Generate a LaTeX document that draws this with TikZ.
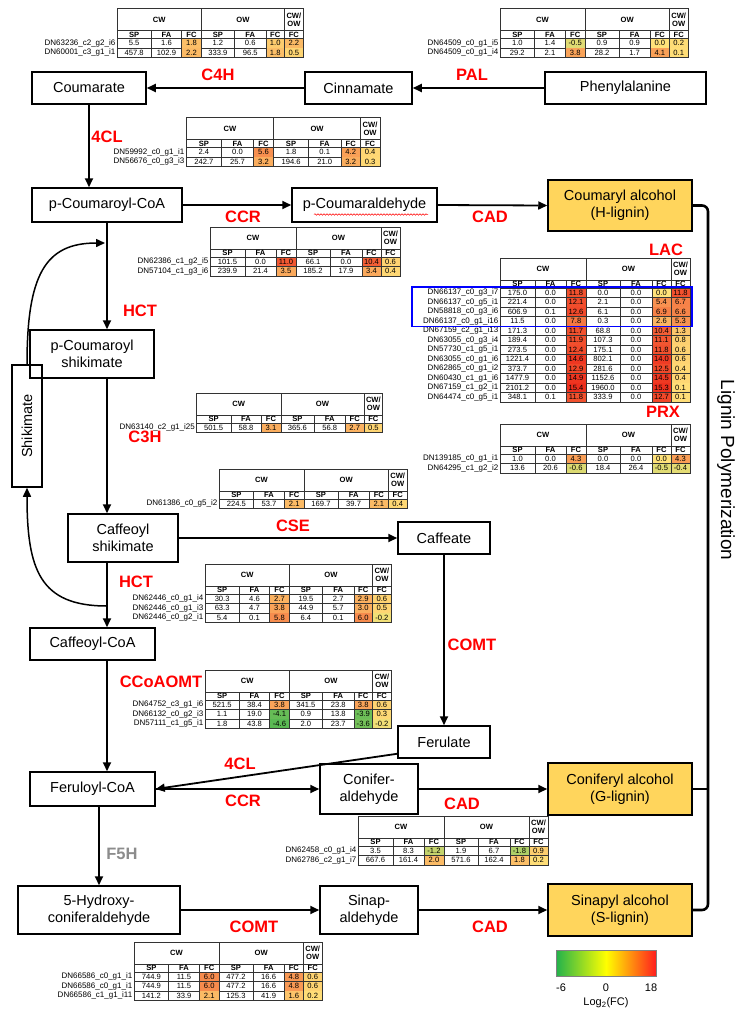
\documentclass[tikz,border=0pt]{standalone}
\usepackage{fontspec}
\setmainfont{Liberation Sans}
\usetikzlibrary{arrows.meta,decorations.pathmorphing,calc}
\definecolor{fcyel}{HTML}{FFE27A}
\definecolor{fcred}{HTML}{EE2A1A}
\definecolor{fcgrn}{HTML}{33B04A}
\definecolor{enzred}{HTML}{FF0000}
\definecolor{lgold}{HTML}{FFD55C}
\definecolor{leggrn}{HTML}{22B24C}
\definecolor{legred}{HTML}{FF1E1E}
\newcommand\setfc[1]{%
  \pgfmathsetmacro\fcv{#1}%
  \ifdim\fcv pt<0pt
    \pgfmathtruncatemacro\fcp{100*min(1,pow(max(abs(\fcv),0.01)/6,0.75))}%
    \colorlet{cellc}{fcgrn!\fcp!fcyel}%
  \else
    \pgfmathtruncatemacro\fcp{100*min(1,pow(max(abs(\fcv),0.01)/16,0.75))}%
    \colorlet{cellc}{fcred!\fcp!fcyel}%
  \fi}
\def\rh{9.5}
\newcommand\gtab[5]{% x, y, xscale, nrows, rows
\begin{scope}[shift={(#1,#2)}]
\begin{scope}[xscale=#3]
 \foreach \nm/\va/\vb/\vc/\vd/\ve/\vf/\vg [count=\i] in {#5} {
   \pgfmathsetmacro\ya{30+\rh*(\i-1)}
   \pgfmathsetmacro\yb{\ya+\rh}
   \pgfmathsetmacro\ym{\ya+\rh/2}
   \setfc{\vc}\fill[cellc] (66,\ya) rectangle (86,\yb);
   \setfc{\vf}\fill[cellc] (152,\ya) rectangle (171,\yb);
   \setfc{\vg}\fill[cellc] (171,\ya) rectangle (190,\yb);
   \node[tabname, anchor=east] at (-1.5,\ym) {\nm};
   \node[tabtxt] at (17.5,\ym) {\va};
   \node[tabtxt] at (50.5,\ym) {\vb};
   \node[tabtxt] at (76,\ym) {\vc};
   \node[tabtxt] at (103,\ym) {\vd};
   \node[tabtxt] at (136,\ym) {\ve};
   \node[tabtxt] at (161.5,\ym) {\vf};
   \node[tabtxt] at (180.5,\ym) {\vg};
   \draw[tabline] (0,\yb) -- (190,\yb);
 }
 \pgfmathsetmacro\ye{30+\rh*#4}
 \draw[tabline] (0,0) rectangle (190,\ye);
 \draw[tabline] (0,22) -- (190,22) (0,30) -- (190,30);
 \foreach \xx in {86,171} \draw[tabline] (\xx,0) -- (\xx,\ye);
 \foreach \xx in {35,66,120,152} \draw[tabline] (\xx,22) -- (\xx,\ye);
 \node[tabhd] at (43,11) {CW};
 \node[tabhd] at (128.5,11) {OW};
 \node[tabhd] at (180.5,11) {CW/\\OW};
 \foreach \xx/\hh in {17.5/SP,50.5/FA,76/FC,103/SP,136/FA,161.5/FC,180.5/FC}
   \node[tabhd] at (\xx,26) {\hh};
\end{scope}
\end{scope}}
\begin{document}
\begin{tikzpicture}[x=1pt,y=-1pt,
 box/.style={draw, line width=1.5pt, font=\fontsize{14.5}{17}\selectfont, align=center, inner sep=1pt},
 gbox/.style={box, fill=lgold},
 arr/.style={line width=1.8pt, -{Triangle[length=9pt,width=8pt]}},
 enz/.style={font=\fontsize{16.5}{18}\selectfont\bfseries, text=enzred, inner sep=0pt},
 tabtxt/.style={font=\fontsize{7.6}{8}\selectfont, inner sep=0pt},
 tabname/.style={font=\fontsize{8}{8}\selectfont, inner sep=0pt},
 tabhd/.style={font=\fontsize{7.6}{8.2}\selectfont\bfseries, inner sep=0pt, align=center},
 tabline/.style={line width=0.5pt, draw=black!80}]
\useasboundingbox (0,0) rectangle (739,1013);
\fill[white] (0,0) rectangle (739,1013);

% ---------- boxes ----------
\node[box, minimum width=114pt, minimum height=32pt] (coum) at (89,88) {Coumarate};
\node[box, minimum width=107pt, minimum height=32pt] (cinn) at (358.5,88) {Cinnamate};
\node[box, minimum width=161pt, minimum height=32pt] (phe) at (625.5,88) {Phenylalanine};
\node[box, minimum width=150pt, minimum height=34pt] (pcoa) at (107,205) {p-Coumaroyl-CoA};
\node[box, minimum width=145pt, minimum height=34pt] (pcald) at (364.5,205) {p-Coumaraldehyde};
\node[gbox, minimum width=144pt, minimum height=51pt] (halc) at (620,205.5) {Coumaryl alcohol\\(H-lignin)};
\node[box, minimum width=124pt, minimum height=48pt] (pcs) at (92,354) {p-Coumaroyl\\shikimate};
\node[box, minimum width=30pt, minimum height=122pt] (shik) at (27,426) {};
\node[rotate=90, font=\fontsize{14.5}{17}\selectfont] (shiktxt) at (shik.center) {Shikimate};
\node[box, minimum width=110pt, minimum height=48pt] (cafs) at (123,538) {Caffeoyl\\shikimate};
\node[box, minimum width=92pt, minimum height=32pt] (caff) at (444,538) {Caffeate};
\node[box, minimum width=125pt, minimum height=32pt] (cacoa) at (92.5,644) {Caffeoyl-CoA};
\node[box, minimum width=92pt, minimum height=32pt] (feru) at (444,742) {Ferulate};
\node[box, minimum width=125pt, minimum height=34pt] (fecoa) at (92.5,789) {Feruloyl-CoA};
\node[box, minimum width=98pt, minimum height=50pt] (conald) at (369,789) {Conifer-\\aldehyde};
\node[gbox, minimum width=144pt, minimum height=52pt] (galc) at (620,789) {Coniferyl alcohol\\(G-lignin)};
\node[box, minimum width=162pt, minimum height=48pt] (hcald) at (99,910) {5-Hydroxy-\\coniferaldehyde};
\node[box, minimum width=98pt, minimum height=48pt] (sinald) at (369,910) {Sinap-\\aldehyde};
\node[gbox, minimum width=144pt, minimum height=52pt] (salc) at (620,910) {Sinapyl alcohol\\(S-lignin)};

% spell-check squiggle
\draw[red, line width=0.5pt, decorate, decoration={snake, amplitude=0.8pt, segment length=3pt}]
  ($(pcald.center)+(-50.5,9.5)$) -- ($(pcald.center)+(63.5,9.5)$);

% ---------- arrows ----------
\coordinate (vx) at (107,0);
\draw[arr] (phe.west) -- (cinn.east);
\draw[arr] (cinn.west) -- (coum.east);
\draw[arr] (coum.south) -- (coum.south |- pcoa.north);
\draw[arr] (pcoa.east) -- (pcald.west);
\draw[arr] (pcald.east) -- (halc.west);
\draw[arr] (pcoa.south) -- (pcoa.south |- pcs.north);
\draw[arr] (pcs.south -| vx) -- (vx |- cafs.north);
\draw[arr] (cafs.east) -- (caff.west);
\draw[arr] (cafs.south -| vx) -- (vx |- cacoa.north);
\draw[arr] (caff.south) -- (feru.north);
\draw[arr] (cacoa.south -| vx) -- (vx |- fecoa.north);
\draw[arr] ($(feru.south west)+(0,-5)$) -- (fecoa.east);
\draw[arr] (fecoa.east) -- (conald.west);
\draw[arr] (conald.east) -- (galc.west);
\draw[arr] (fecoa.south -| hcald.north) -- (hcald.north);
\draw[arr] (hcald.east) -- (sinald.west);
\draw[arr] (sinald.east) -- (salc.west);
% shikimate loop
\coordinate (j1) at (105,243);
\coordinate (j2) at (107,606);
\draw[arr, line width=1.5pt] (shik.north) .. controls (27,275) and (45,243) .. (j1);
\draw[arr, line width=1.5pt] (j2) .. controls (40,606) and (27,570) .. (shik.south);
% lignin polymerization bracket
\coordinate (lpx) at (708,0);
\draw[line width=2.6pt, rounded corners=6pt] (halc.east) -- (halc.east -| lpx) -- (salc.east -| lpx) -- (salc.east);
\draw[line width=2.6pt] (galc.east) -- (galc.east -| lpx);
\node[rotate=-90, font=\fontsize{19}{21}\selectfont] (lp) at (726,470) {Lignin Polymerization};

% ---------- enzyme labels ----------
\node[enz] (ePAL) at (472,75) {PAL};
\node[enz] (eC4H) at (218,75) {C4H};
\node[enz] (e4CL) at (107,137) {4CL};
\node[enz] (eCCR) at (243,217) {CCR};
\node[enz] (eCAD) at (490,217) {CAD};
\node[enz] (eLAC) at (666,250) {LAC};
\node[enz] (eHCT) at (140,311) {HCT};
\node[enz] (eC3H) at (145,437) {C3H};
\node[enz] (ePRX) at (663,412) {PRX};
\node[enz] (eCSE) at (293,526) {CSE};
\node[enz] (eCOMT) at (472,645) {COMT};
\node[enz] (eHCT2) at (136,582) {HCT};
\node[enz] (eCCo) at (161,682) {CCoAOMT};
\node[enz] (e4CL2) at (240,764) {4CL};
\node[enz] (eCCR2) at (243,801) {CCR};
\node[enz] (eCAD2) at (462,804) {CAD};
\node[enz, text=black!45] (eF5H) at (122,854) {F5H};
\node[enz] (eCOMT2) at (254,927) {COMT};
\node[enz] (eCAD3) at (490,927) {CAD};

% ---------- tables ----------
\gtab{117}{8.5}{0.98}{2}{DN63236\_c2\_g2\_i6/5.5/1.6/1.8/1.2/0.6/1.0/2.2, DN60001\_c3\_g1\_i1/457.8/102.9/2.2/333.9/96.5/1.8/0.5}
\gtab{500}{8.5}{0.99}{2}{DN64509\_c0\_g1\_i5/1.0/1.4/-0.5/0.9/0.9/0.0/0.2, DN64509\_c0\_g1\_i4/29.2/2.1/3.8/28.2/1.7/4.1/0.1}
\gtab{186}{117.5}{1.02}{2}{DN59992\_c0\_g1\_i1/2.4/0.0/5.6/1.8/0.1/4.2/0.4, DN56676\_c0\_g3\_i3/242.7/25.7/3.2/194.6/21.0/3.2/0.3}
\gtab{210}{227}{1.0}{2}{DN62386\_c1\_g2\_i5/101.5/0.0/11.0/66.1/0.0/10.4/0.6, DN57104\_c1\_g3\_i6/239.9/21.4/3.5/185.2/17.9/3.4/0.4}
\gtab{500}{258}{1.0}{12}{DN66137\_c0\_g3\_i7/175.0/0.0/11.8/0.0/0.0/0.0/11.8,
 DN66137\_c0\_g5\_i1/221.4/0.0/12.1/2.1/0.0/5.4/6.7,
 DN58818\_c0\_g3\_i6/606.9/0.1/12.6/6.1/0.0/6.9/6.6,
 DN66137\_c0\_g1\_i16/11.5/0.0/7.8/0.3/0.0/2.6/5.3,
 DN67159\_c2\_g1\_i13/171.3/0.0/11.7/68.8/0.0/10.4/1.3,
 DN63055\_c0\_g3\_i4/189.4/0.0/11.9/107.3/0.0/11.1/0.8,
 DN57730\_c1\_g5\_i1/273.5/0.0/12.4/175.1/0.0/11.8/0.6,
 DN63055\_c0\_g1\_i6/1221.4/0.0/14.6/802.1/0.0/14.0/0.6,
 DN62865\_c0\_g1\_i2/373.7/0.0/12.9/281.6/0.0/12.5/0.4,
 DN60430\_c1\_g1\_i6/1477.9/0.0/14.9/1152.6/0.0/14.5/0.4,
 DN67159\_c1\_g2\_i1/2101.2/0.0/15.4/1960.0/0.0/15.3/0.1,
 DN64474\_c0\_g5\_i1/348.1/0.1/11.8/333.9/0.0/12.7/0.1}
\draw[blue, line width=1.8pt] (412,287) rectangle (692,326.5);
\gtab{196.5}{393}{0.98}{1}{DN63140\_c2\_g1\_i25/501.5/58.8/3.1/365.6/56.8/2.7/0.5}
\gtab{500}{424}{1.0}{2}{DN139185\_c0\_g1\_i1/1.0/0.0/4.3/0.0/0.0/0.0/4.3, DN64295\_c1\_g2\_i2/13.6/20.6/-0.6/18.4/26.4/-0.5/-0.4}
\gtab{219}{469}{0.99}{1}{DN61386\_c0\_g5\_i2/224.5/53.7/2.1/169.7/39.7/2.1/0.4}
\gtab{205}{564}{0.98}{3}{DN62446\_c0\_g1\_i4/30.3/4.6/2.7/19.5/2.7/2.9/0.6, DN62446\_c0\_g1\_i3/63.3/4.7/3.8/44.9/5.7/3.0/0.5, DN62446\_c0\_g2\_i1/5.4/0.1/5.8/6.4/0.1/6.0/-0.2}
\gtab{205}{670}{0.98}{3}{DN64752\_c3\_g1\_i6/521.5/38.4/3.8/341.5/23.8/3.8/0.6, DN66132\_c0\_g2\_i3/1.1/19.0/-4.1/0.9/13.8/-3.9/0.3, DN57111\_c1\_g5\_i1/1.8/43.8/-4.6/2.0/23.7/-3.6/-0.2}
\gtab{358}{816}{1.0}{2}{DN62458\_c0\_g1\_i4/3.5/8.3/-1.2/1.9/6.7/-1.8/0.9, DN62786\_c2\_g1\_i7/667.6/161.4/2.0/571.6/162.4/1.8/0.2}
\gtab{134}{942}{0.99}{3}{DN66586\_c0\_g1\_i1/744.9/11.5/6.0/477.2/16.6/4.8/0.6, DN66586\_c0\_g1\_i1/744.9/11.5/6.0/477.2/16.6/4.8/0.6, DN66586\_c1\_g1\_i11/141.2/33.9/2.1/125.3/41.9/1.6/0.2}

% ---------- legend ----------
\shade[left color=leggrn, right color=legred, middle color=yellow] (556,950) rectangle (656,976);
\draw[black!50, line width=0.5pt] (556,950) rectangle (656,976);
\node[font=\fontsize{11}{12}\selectfont] (lmin) at (561,988) {-6};
\node[font=\fontsize{11}{12}\selectfont] (lmid) at (606,988) {0};
\node[font=\fontsize{11}{12}\selectfont] (lmax) at (651,988) {18};
\node[font=\fontsize{11}{13}\selectfont] (llog) at (606,1003) {Log\textsubscript{2}(FC)};
\end{tikzpicture}
\end{document}
